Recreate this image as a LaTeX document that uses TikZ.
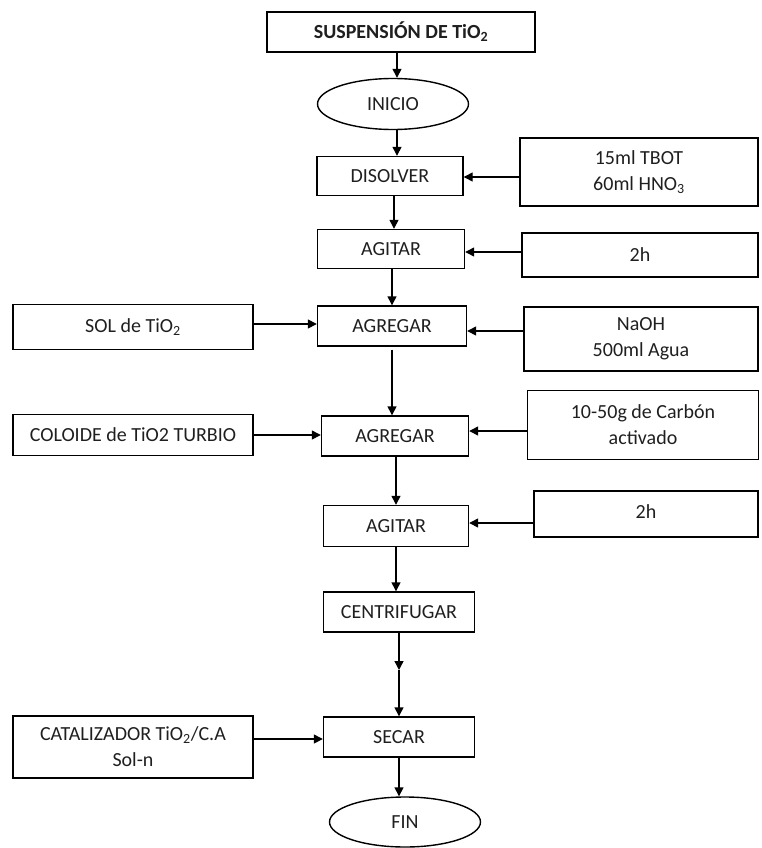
\documentclass[tikz,border=0pt]{standalone}
\usepackage{fontspec}
\setmainfont{Carlito}
\usetikzlibrary{arrows.meta,shapes.geometric}

\begin{document}
\begin{tikzpicture}[x=1pt,y=-1pt]
\tikzset{
  every node/.style={font=\fontsize{20}{26}\selectfont, text=black!88},
  stepbox/.style={draw, line width=1.4pt, inner sep=0pt, align=center},
  oval/.style={draw, ellipse, line width=1.4pt, inner sep=0pt},
  arr/.style={line width=1.4pt, -{Triangle[length=9pt,width=9pt]}},
}
\useasboundingbox (0,0) rectangle (761,848);

% main column
\node[stepbox, minimum width=268pt, minimum height=40pt] (top) at (401,32) {\textbf{SUSPENSIÓN DE TiO\textsubscript{2}}};
\node[oval, minimum width=151pt, minimum height=51pt] (ini) at (393,104) {INICIO};
\node[stepbox, minimum width=146pt, minimum height=39pt] (dis) at (390,176) {DISOLVER};
\node[stepbox, minimum width=147pt, minimum height=39pt] (agi1) at (391,249) {AGITAR};
\node[stepbox, minimum width=149pt, minimum height=40pt] (agr1) at (392,326) {AGREGAR};
\node[stepbox, minimum width=147pt, minimum height=40pt] (agr2) at (395,436) {AGREGAR};
\node[stepbox, minimum width=145pt, minimum height=41pt] (agi2) at (396,526) {AGITAR};
\node[stepbox, minimum width=151pt, minimum height=40pt] (cen) at (399,612) {CENTRIFUGAR};
\node[stepbox, minimum width=151pt, minimum height=40pt] (sec) at (399,737) {SECAR};
\node[oval, minimum width=151pt, minimum height=50pt] (fin) at (405,822) {FIN};

% inputs on the right
\node[stepbox, minimum width=238pt, minimum height=68pt] (r1) at (639,172) {15ml TBOT\\60ml HNO\textsubscript{3}};
\node[stepbox, minimum width=236pt, minimum height=44pt] (r2) at (640,255) {2h};
\node[stepbox, minimum width=234pt, minimum height=64pt] (r3) at (641,339) {NaOH\\500ml Agua};
\node[stepbox, minimum width=231pt, minimum height=69pt] (r4) at (643,425) {10-50g de Carbón\\activado};
\node[stepbox, minimum width=224pt, minimum height=46pt, text depth=4pt] (r5) at (646,514) {2h};

% inputs on the left
\node[stepbox, minimum width=240pt, minimum height=45pt] (sol) at (133,327) {SOL de TiO\textsubscript{2}};
\node[stepbox, minimum width=240pt, minimum height=41pt] (col) at (133,435) {COLOIDE de TiO2 TURBIO};
\node[stepbox, minimum width=240pt, minimum height=62pt] (cat) at (133,747) {CATALIZADOR TiO\textsubscript{2}/C.A\\Sol-n};

% vertical flow
\draw[arr] ([xshift=-4pt]top.south) -- ([xshift=-4pt]top.south |- ini.north);
\draw[arr] ([xshift=4pt]ini.south) -- ([xshift=4pt]ini.south |- dis.north);
\draw[arr] ([xshift=4pt]dis.south) -- ([xshift=4pt]dis.south |- agi1.north);
\draw[arr] ([xshift=1pt]agi1.south) -- ([xshift=1pt]agi1.south |- agr1.north);
\draw[arr] ([yshift=-3pt]agr1.south) -- (agr1.south |- agr2.north);
\draw[arr] ([xshift=1pt]agr2.south) -- ([xshift=1pt]agr2.south |- agi2.north);
\draw[arr] (agi2.south) -- (agi2.south |- cen.north);
\coordinate (cmid) at (399,670);
\draw[arr] (cen.south) -- (cmid);
\draw[arr] (cmid) -- (sec.north);
\draw[arr] (sec.south) -- (sec.south |- fin.north);

% side inputs
\draw[arr] ([yshift=-5pt]r1.west) -- ([yshift=-5pt]r1.west -| dis.east);
\draw[arr] ([yshift=3pt]r2.west) -- ([yshift=3pt]r2.west -| agi1.east);
\draw[arr] ([yshift=8pt]r3.west) -- ([yshift=8pt]r3.west -| agr1.east);
\draw[arr] ([yshift=-6pt]r4.west) -- ([yshift=-6pt]r4.west -| agr2.east);
\draw[arr] ([yshift=-9pt]r5.west) -- ([yshift=-9pt]r5.west -| agi2.east);
\draw[arr] ([yshift=3pt]sol.east) -- ([yshift=3pt]sol.east -| agr1.west);
\draw[arr] (col.east) -- (col.east -| agr2.west);
\draw[arr] ([yshift=8pt]cat.east) -- ([yshift=8pt]cat.east -| sec.west);
\end{tikzpicture}
\end{document}
